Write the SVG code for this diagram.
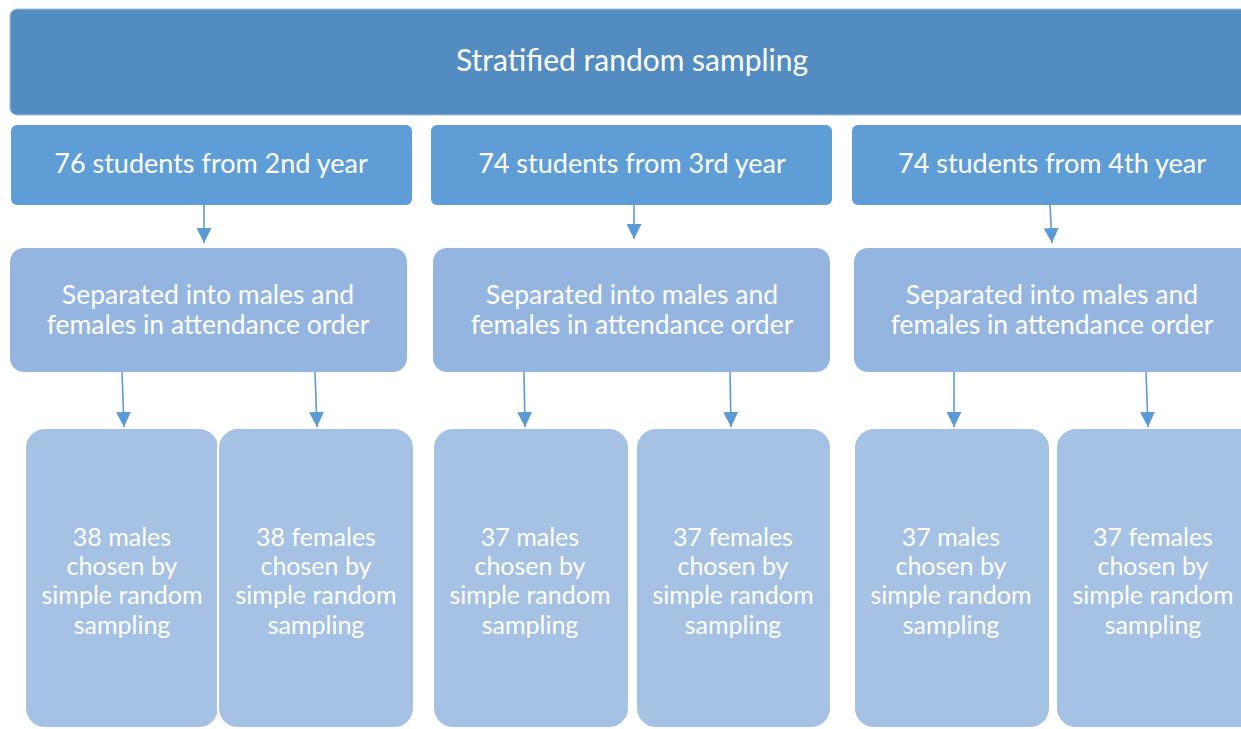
<svg xmlns="http://www.w3.org/2000/svg" width="1241" height="729" viewBox="0 0 1241 729">
<defs>
<style>
text{font-family:"Lato","Open Sans","Liberation Sans",sans-serif;fill:#ffffff;text-anchor:middle}
.top{fill:#538CC1;stroke:#9DBFE2;stroke-width:1}
.r2{fill:#5F9DD6}
.r3{fill:#93B5DF}
.r4{fill:#A5C1E3;stroke:#ffffff;stroke-width:2}
.title{font-size:30px}
.t2{font-size:27px}
.t3{font-size:26.5px}
.t4{font-size:25px}
.c{stroke:#5B9BD5;stroke-width:1.6;fill:none;marker-end:url(#ah)}
</style>
<marker id="ah" viewBox="0 0 10 10" refX="10" refY="5" markerWidth="15" markerHeight="15" markerUnits="userSpaceOnUse" orient="auto">
<path d="M0,0 L10,5 L0,10 z" fill="#5B9BD5"/>
</marker>
</defs>
<rect width="1241" height="729" fill="#ffffff"/>
<g id="n-top"><rect class="top" x="10" y="9" width="1250" height="106" rx="7"/><text class="title" x="632" y="71">Stratified random sampling</text></g>
<g id="n-y2" class="t2"><rect class="r2" x="11" y="125" width="401" height="80" rx="6"/><text x="211" y="173">76 students from 2nd year</text></g>
<g id="n-y3" class="t2"><rect class="r2" x="431" y="125" width="401" height="80" rx="6"/><text x="632" y="173">74 students from 3rd year</text></g>
<g id="n-y4" class="t2"><rect class="r2" x="852" y="125" width="420" height="80" rx="6"/><text x="1052" y="173">74 students from 4th year</text></g>
<g id="n-s2" class="t3"><rect class="r3" x="10" y="248" width="397" height="124" rx="14"/><text x="208" y="304">Separated into males and</text><text x="208" y="334">females in attendance order</text></g>
<g id="n-s3" class="t3"><rect class="r3" x="433" y="248" width="397" height="124" rx="14"/><text x="632" y="304">Separated into males and</text><text x="632" y="334">females in attendance order</text></g>
<g id="n-s4" class="t3"><rect class="r3" x="854" y="248" width="410" height="124" rx="14"/><text x="1052" y="304">Separated into males and</text><text x="1052" y="334">females in attendance order</text></g>
<g id="n-m2" class="t4"><rect class="r4" x="25" y="428" width="194" height="300" rx="20"/><text x="122" y="546">38 males</text><text x="122" y="575">chosen by</text><text x="122" y="604">simple random</text><text x="122" y="634">sampling</text></g>
<g id="n-f2" class="t4"><rect class="r4" x="218" y="428" width="196" height="300" rx="20"/><text x="316" y="546">38 females</text><text x="316" y="575">chosen by</text><text x="316" y="604">simple random</text><text x="316" y="634">sampling</text></g>
<g id="n-m3" class="t4"><rect class="r4" x="433" y="428" width="196" height="300" rx="20"/><text x="530" y="546">37 males</text><text x="530" y="575">chosen by</text><text x="530" y="604">simple random</text><text x="530" y="634">sampling</text></g>
<g id="n-f3" class="t4"><rect class="r4" x="636" y="428" width="195" height="300" rx="20"/><text x="733" y="546">37 females</text><text x="733" y="575">chosen by</text><text x="733" y="604">simple random</text><text x="733" y="634">sampling</text></g>
<g id="n-m4" class="t4"><rect class="r4" x="854" y="428" width="196" height="300" rx="20"/><text x="951" y="546">37 males</text><text x="951" y="575">chosen by</text><text x="951" y="604">simple random</text><text x="951" y="634">sampling</text></g>
<g id="n-f4" class="t4"><rect class="r4" x="1056" y="428" width="210" height="300" rx="20"/><text x="1153" y="546">37 females</text><text x="1153" y="575">chosen by</text><text x="1153" y="604">simple random</text><text x="1153" y="634">sampling</text></g>
<g id="connectors">
<line class="c" x1="204" y1="205" x2="204" y2="243"/>
<line class="c" x1="634" y1="205" x2="634" y2="239"/>
<line class="c" x1="1050" y1="205" x2="1052" y2="243"/>
<line class="c" x1="122" y1="372" x2="124" y2="427"/>
<line class="c" x1="315" y1="372" x2="317" y2="427"/>
<line class="c" x1="524" y1="372" x2="525" y2="427"/>
<line class="c" x1="730" y1="372" x2="731" y2="427"/>
<line class="c" x1="954" y1="372" x2="954" y2="427"/>
<line class="c" x1="1146" y1="372" x2="1148" y2="427"/>
</g>
</svg>
